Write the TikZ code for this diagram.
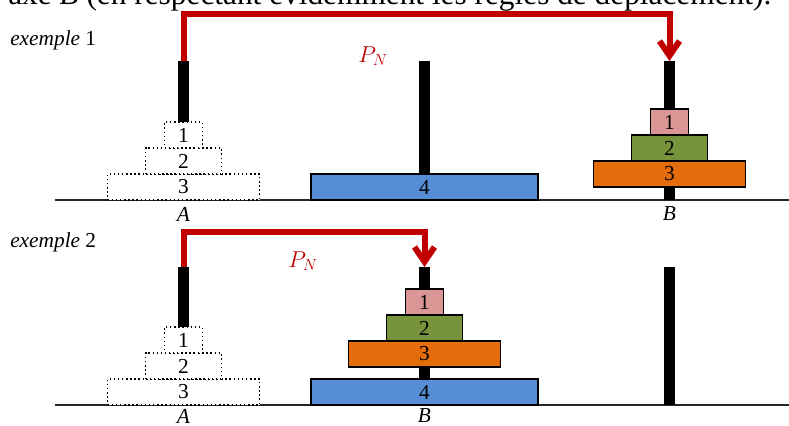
\documentclass[tikz,border=0pt]{standalone}
\usepackage{fontspec}
\setmainfont{Liberation Serif}
\usetikzlibrary{arrows.meta,positioning}
\definecolor{discPink}{RGB}{217,150,148}
\definecolor{discGreen}{RGB}{119,147,60}
\definecolor{discOrange}{RGB}{228,108,10}
\definecolor{discBlue}{RGB}{85,142,213}
\definecolor{moveRed}{RGB}{192,0,0}
\tikzset{
  disc/.style={draw, line width=1.1pt, inner sep=0pt, outer sep=0pt,
    minimum height=19.5pt, anchor=south, font=\fontsize{16}{16}\selectfont},
  ghost/.style={disc, dotted, fill=white},
  wone/.style={minimum width=28.5pt},
  wtwo/.style={minimum width=57pt},
  wthree/.style={minimum width=114pt},
  wfour/.style={minimum width=170pt},
  ground/.style={line width=1pt, black!85},
  move/.style={moveRed, line width=4.5pt,
    -{Straight Barb[length=11pt,width=15pt]}},
  axis/.style={font=\fontsize{16}{16}\selectfont\itshape},
  legend/.style={anchor=base west, inner sep=0pt, font=\fontsize{16}{16}\selectfont},
  pname/.style={moveRed, font=\fontsize{17}{17}\selectfont}
}
\begin{document}
\begin{tikzpicture}[x=0.75pt,y=-0.75pt]
  \clip (0,0) rectangle (789,425);
  % partial line of text above
  \node[anchor=base west, inner sep=0pt, font=\fontsize{23.5}{23.5}\selectfont] (intro) at (8,4)
    {axe \textit{B} (en respectant évidemment les règles de déplacement).};
  % ground lines
  \draw[ground] (55,200) -- (789,200);
  \draw[ground] (55,405) -- (789,405);
  % pegs
  \foreach \px in {183.5,424.5,669.5} {
    \fill (\px-5.5,61) rectangle (\px+5.5,200);
    \fill (\px-5.5,267) rectangle (\px+5.5,405);
  }
  \coordinate (topA1) at (183.5,61);
  \coordinate (topB1) at (669.5,61);
  \coordinate (topA2) at (183.5,267);
  \coordinate (topB2) at (424.5,267);
  \coordinate (lane1) at (0,14);
  \coordinate (lane2) at (0,232);

  % exemple 1
  \node[legend] (ex1) at (10,45) {\textit{exemple} 1};
  \node[ghost, wthree] (a3) at (183.5,200) {3};
  \node[ghost, wtwo] (a2) at (a3.north) {2};
  \node[ghost, wone] (a1) at (a2.north) {1};
  \node[disc, wfour, fill=discBlue] (m4) at (424.5,200) {4};
  \node[disc, wthree, fill=discOrange] (b3) at (669.5,187) {3};
  \node[disc, wtwo, fill=discGreen] (b2) at (b3.north) {2};
  \node[disc, wone, fill=discPink] (b1) at (b2.north) {1};
  \node[axis] (labA1) at (183.5,214) {A};
  \node[axis] (labB1) at (669.5,214) {B};
  \node[pname] (pn1) at (373,56) {$P_N$};
  \draw[move] (topA1) -- (topA1 |- lane1) -| (topB1);

  % exemple 2
  \node[legend] (ex2) at (10,247) {\textit{exemple} 2};
  \node[ghost, wthree] (c3) at (183.5,405) {3};
  \node[ghost, wtwo] (c2) at (c3.north) {2};
  \node[ghost, wone] (c1) at (c2.north) {1};
  \node[disc, wfour, fill=discBlue] (n4) at (424.5,405) {4};
  \node[disc, wthree, fill=discOrange] (n3) at (424.5,367) {3};
  \node[disc, wtwo, fill=discGreen] (n2) at (n3.north) {2};
  \node[disc, wone, fill=discPink] (n1) at (n2.north) {1};
  \node[axis] (labA2) at (183.5,416) {A};
  \node[axis] (labB2) at (424.5,416) {B};
  \node[pname] (pn2) at (303,261) {$P_N$};
  \draw[move] (topA2) -- (topA2 |- lane2) -| (topB2);
\end{tikzpicture}
\end{document}
